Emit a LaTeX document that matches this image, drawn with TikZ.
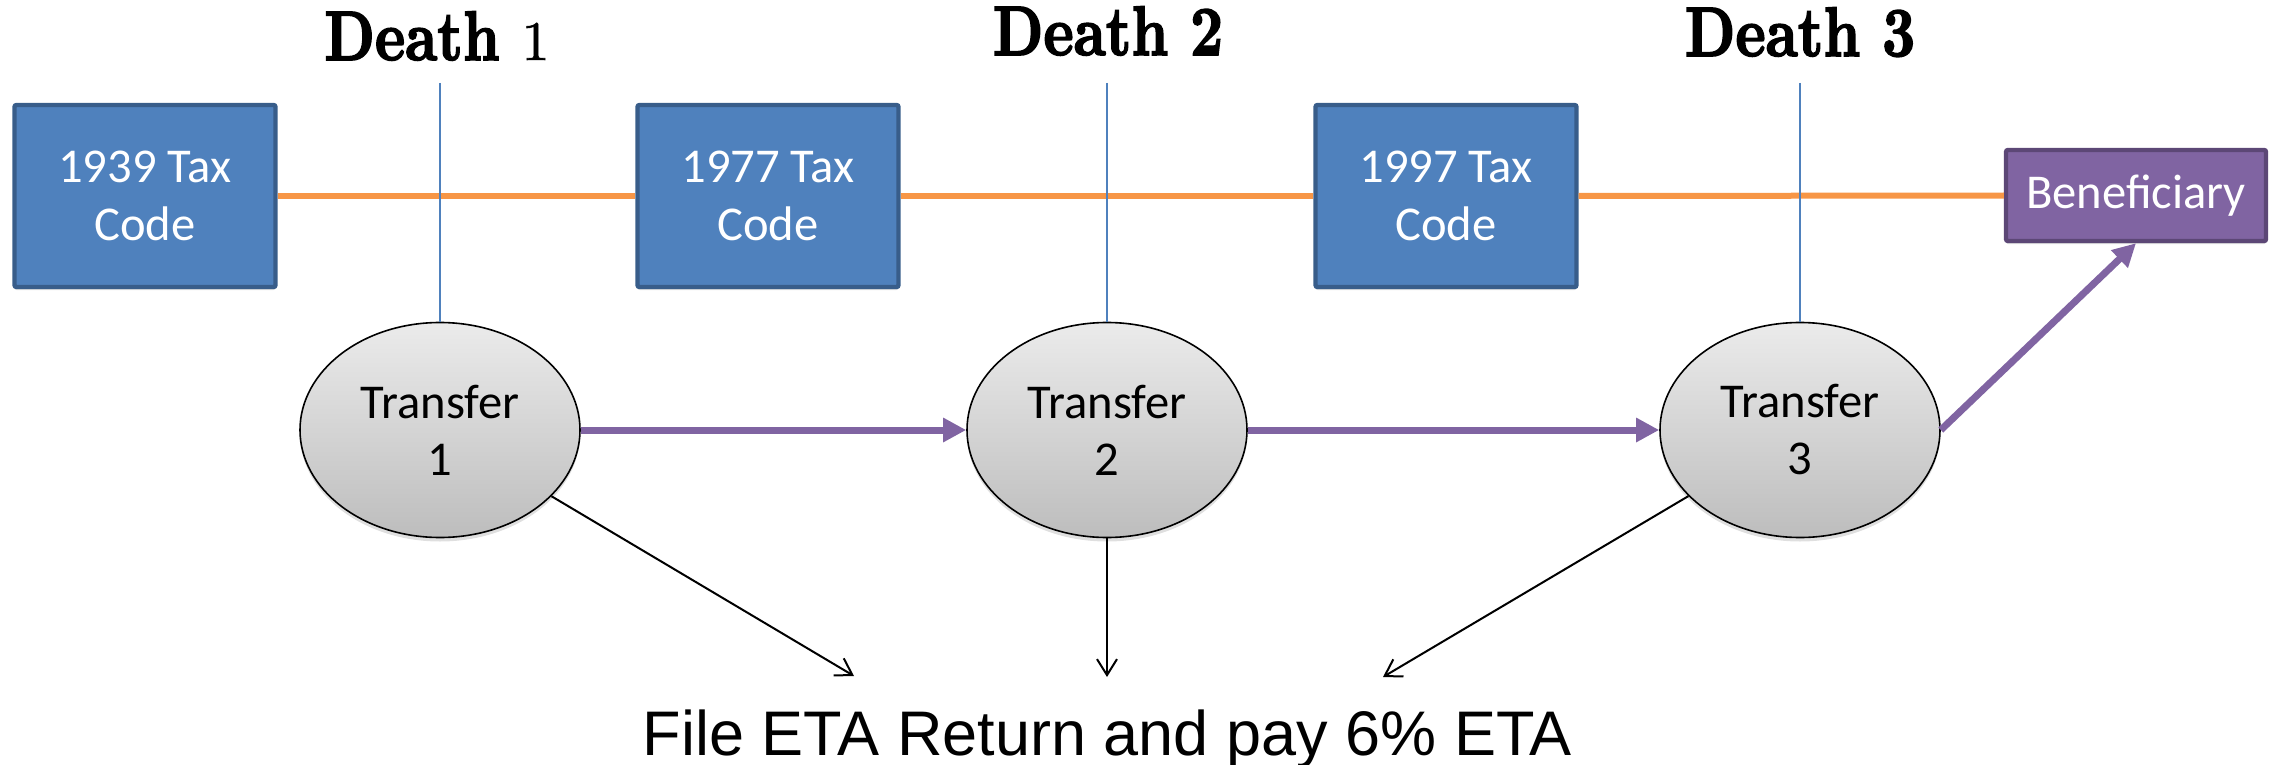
\documentclass[tikz,border=0pt]{standalone}
\usepackage{fontspec}
\usepackage{graphicx}
\newfontfamily\calib{Carlito}
\newfontfamily\arialf{Liberation Sans}
\newfontfamily\deathfont{lmroman10-bold.otf}[FakeBold=2.5]
\newfontfamily\deathnum{lmroman10-regular.otf}[FakeBold=1]
\usetikzlibrary{arrows.meta,shapes.geometric,shadows}
\definecolor{boxblue}{HTML}{4F81BD}
\definecolor{boxborder}{HTML}{385D8A}
\definecolor{purp}{HTML}{8064A2}
\definecolor{purpborder}{HTML}{5C4776}
\definecolor{orng}{HTML}{F79646}
\definecolor{linblue}{HTML}{4F81BD}
\definecolor{elltop}{HTML}{EBEBEB}
\definecolor{ellbot}{HTML}{BDBDBD}
\begin{document}
\begin{tikzpicture}[x=0.5pt,y=-0.5pt,
  codebox/.style={draw=boxborder, line width=2.2pt, fill=boxblue, text=white,
    minimum width=130.5pt, minimum height=91pt, inner sep=0pt, align=center,
    font=\calib\fontsize{24.3}{29}\selectfont, rounded corners=1pt,
    drop shadow={opacity=0.25, shadow xshift=0pt, shadow yshift=-1.5pt}},
  benbox/.style={codebox, draw=purpborder, fill=purp, minimum width=130pt, minimum height=45.5pt},
  xfer/.style={ellipse, draw=black, line width=0.8pt, top color=elltop, bottom color=ellbot,
    minimum width=140pt, minimum height=107.5pt, inner sep=0pt, align=center,
    font=\calib\fontsize{24.3}{28.5}\selectfont,
    drop shadow={opacity=0.25, shadow xshift=0pt, shadow yshift=-2pt}},
  deathlbl/.style={anchor=base, inner sep=0pt, font=\deathfont\fontsize{35}{40}\selectfont},
  deathline/.style={draw=linblue, line width=0.8pt},
  codeline/.style={draw=orng, line width=3pt},
  flow/.style={draw=purp, line width=3.5pt, -{Triangle[length=11.5pt,width=11.5pt]}},
  eta/.style={draw=black, line width=1pt, -{Straight Barb[length=8pt,width=10pt]}}
]
\useasboundingbox (0,0) rectangle (2277,765);

% tax code boxes
\node[codebox] (c1) at (145,196) {1939 Tax\\Code};
\node[codebox] (c2) at (768,196) {1977 Tax\\Code};
\node[codebox] (c3) at (1446,196) {1997 Tax\\Code};
\node[benbox] (ben) at (2136,195.5) {Beneficiary};

% orange timeline
\draw[codeline] (c1.east) -- (c2.west);
\draw[codeline] (c2.east) -- (c3.west);
\draw[codeline] (c3.east) -- (ben.west);

% transfers
\node[xfer] (t1) at (440,430) {Transfer\\1};
\node[xfer] (t2) at (1107,430) {Transfer\\2};
\node[xfer] (t3) at (1800,430) {Transfer\\3};

% death labels and lines
\node[deathlbl] (death1) at (437,60) {\scalebox{0.82}[1]{Death\ }{\deathnum\fontsize{28}{30}\selectfont 1}};
\node[deathlbl] (death2) at (1108,55) {\scalebox{0.82}[1]{Death 2}};
\node[deathlbl] (death3) at (1800,56) {\scalebox{0.82}[1]{Death 3}};
\coordinate (d1top) at (440,83);
\coordinate (d2top) at (1107,83);
\coordinate (d3top) at (1800,83);
\draw[deathline] (d1top) -- (t1.north);
\draw[deathline] (d2top) -- (t2.north);
\draw[deathline] (d3top) -- (t3.north);

% purple flow
\draw[flow] (t1.east) -- (t2.west);
\draw[flow] (t2.east) -- (t3.west);
\draw[flow] (t3.east) -- (ben.south);

% ETA
\node[anchor=base, inner sep=0pt, font=\arialf\fontsize{31.5}{36}\selectfont] (ret) at (1107.5,755) {File ETA Return and pay 6\% ETA};
\coordinate (r1) at (854,676);
\coordinate (r2) at (1107,677);
\coordinate (r3) at (1383,677);
\draw[eta] (t1) -- (r1);
\draw[eta] (t2.south) -- (r2);
\draw[eta] (t3) -- (r3);
\end{tikzpicture}
\end{document}
